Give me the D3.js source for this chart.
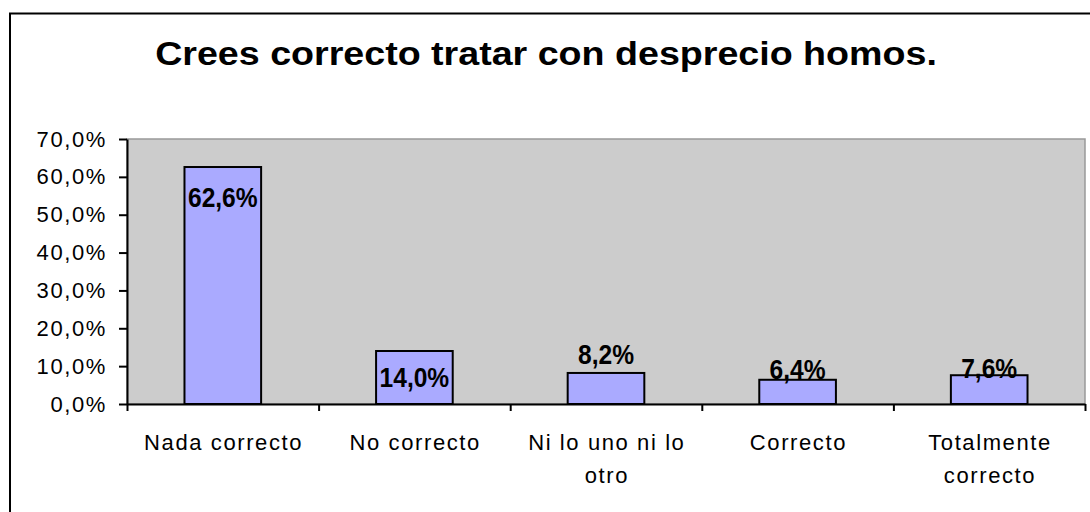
<!DOCTYPE html>
<html>
<head>
<meta charset="utf-8">
<script src="https://cdn.jsdelivr.net/npm/d3@7"></script>
<style>
  html, body { margin: 0; padding: 0; background: #ffffff; }
  svg { display: block; }
  text { font-family: "Liberation Sans", Arial, sans-serif; }
</style>
</head>
<body>
<svg id="chart" width="1090" height="512"></svg>
<script>
// ---- data ----
const title = "Crees correcto tratar con desprecio homos.";
const categories = ["Nada correcto", "No correcto", "Ni lo uno ni lo otro", "Correcto", "Totalmente correcto"];
const values = [0.626, 0.140, 0.082, 0.064, 0.076];
const yTicks = [0, 0.1, 0.2, 0.3, 0.4, 0.5, 0.6, 0.7];

// ---- layout (not data) ----
const W = 1090, H = 512;
const plot = { left: 127, right: 1085, top: 139, bottom: 404 };
const labelDy = [40, 36, -9, -1, 3]; // label baseline offset from bar top, px
const stretch = 1.14;
const spacing = 1.6;

const loc = d3.formatLocale({ decimal: ",", thousands: ".", grouping: [3], currency: ["", "€"] });
const pct = loc.format(".1%");

const svg = d3.select("#chart");

// outer chart frame
svg.append("rect")
  .attr("x", 10).attr("y", 13.5).attr("width", 1100).attr("height", 520)
  .attr("fill", "#ffffff").attr("stroke", "#000000").attr("stroke-width", 2);

// title
svg.append("text")
  .attr("transform", `translate(546,65) scale(${stretch},1)`)
  .attr("text-anchor", "middle")
  .attr("font-size", 33).attr("font-weight", "bold").attr("fill", "#000")
  .text(title);

const x = d3.scaleBand().domain(categories).range([plot.left, plot.right])
  .paddingInner(0.6).paddingOuter(0.3);
const xb = d3.scaleLinear().domain([0, categories.length]).range([plot.left, plot.right]);
const y = d3.scaleLinear().domain([0, 0.7]).range([plot.bottom, plot.top]);

// plot area
svg.append("rect")
  .attr("x", plot.left).attr("y", plot.top)
  .attr("width", plot.right - plot.left).attr("height", plot.bottom - plot.top)
  .attr("fill", "#cccccc").attr("stroke", "#999999").attr("stroke-width", 1.5);

// bars
svg.selectAll("rect.bar").data(values).join("rect")
  .attr("class", "bar")
  .attr("x", (d, i) => x(categories[i]))
  .attr("y", d => y(d))
  .attr("width", x.bandwidth())
  .attr("height", d => y(0) - y(d))
  .attr("fill", "#aaaaff").attr("stroke", "#000").attr("stroke-width", 2);

// y axis
const yAxis = svg.append("g").attr("transform", `translate(${plot.left},0)`)
  .call(d3.axisLeft(y).tickValues(yTicks).tickFormat(pct).tickSizeInner(8).tickSizeOuter(0).tickPadding(14));
yAxis.select(".domain").attr("stroke", "#000").attr("stroke-width", 2);
yAxis.selectAll(".tick line").attr("stroke", "#000").attr("stroke-width", 2);
yAxis.selectAll(".tick text")
  .attr("font-size", 22).attr("fill", "#000")
  .attr("letter-spacing", spacing)
  .attr("dy", null).attr("x", -20).attr("y", 7)
  .attr("font-family", '"Liberation Sans", Arial, sans-serif');

// x axis boundary ticks
const xAxis = svg.append("g").attr("transform", `translate(0,${plot.bottom})`)
  .call(d3.axisBottom(xb).tickValues(d3.range(categories.length + 1)).tickFormat("").tickSizeInner(7).tickSizeOuter(0));
xAxis.select(".domain").attr("stroke", "#000").attr("stroke-width", 2);
xAxis.selectAll(".tick line").attr("stroke", "#000").attr("stroke-width", 2);

// x category labels (wrapped)
const xLab = svg.append("g").attr("transform", `translate(0,${plot.bottom})`)
  .call(d3.axisBottom(x).tickSize(0).tickPadding(0));
xLab.select(".domain").remove();
xLab.selectAll(".tick text").each(function(d) {
  const t = d3.select(this);
  t.text(null).attr("y", null).attr("dy", null)
    .attr("font-size", 22).attr("fill", "#000")
    .attr("letter-spacing", spacing)
    .attr("font-family", '"Liberation Sans", Arial, sans-serif');
  const words = d.split(" ");
  const lines = [];
  let cur = [];
  const probe = t.append("tspan");
  words.forEach(w => {
    const test = cur.concat([w]).join(" ");
    probe.text(test);
    if (probe.node().getComputedTextLength() > 175 && cur.length) {
      lines.push(cur.join(" "));
      cur = [w];
    } else cur.push(w);
  });
  lines.push(cur.join(" "));
  probe.remove();
  lines.forEach((ln, i) => {
    t.append("tspan").attr("x", spacing / 2).attr("y", 46 + i * 33).text(ln);
  });
});

// value labels
svg.selectAll("text.vlabel").data(values).join("text")
  .attr("class", "vlabel")
  .attr("transform", (d, i) => `translate(${x(categories[i]) + x.bandwidth() / 2},${y(d) + labelDy[i]}) scale(0.91,1)`)
  .attr("text-anchor", "middle")
  .attr("font-size", 27).attr("font-weight", "bold").attr("fill", "#000")
  .text(d => pct(d));
</script>
</body>
</html>
